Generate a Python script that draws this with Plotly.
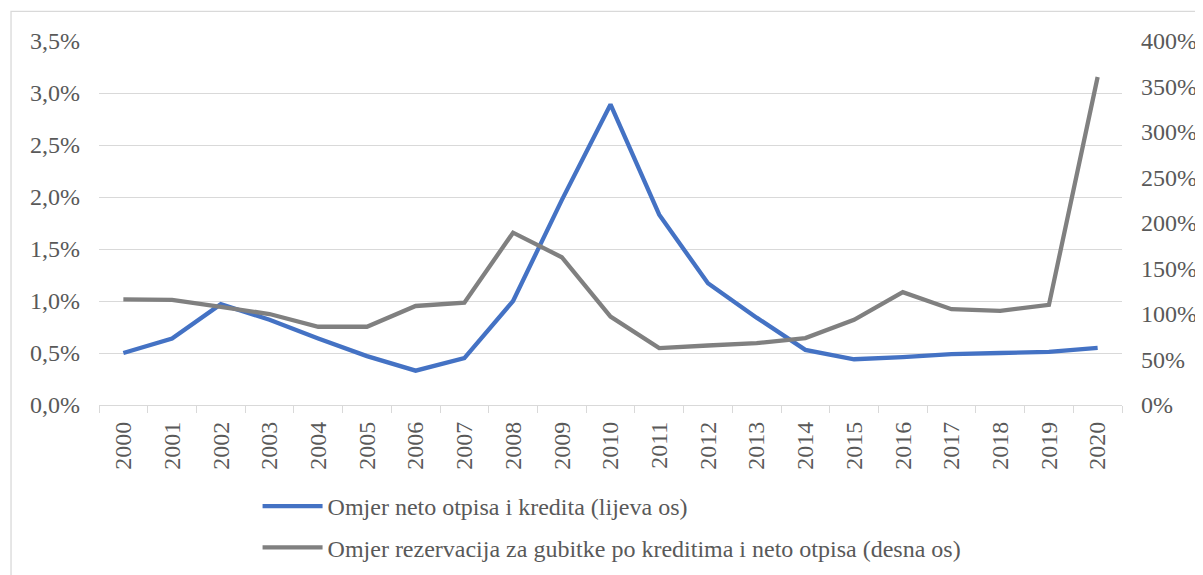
import plotly.graph_objects as go

years = [str(y) for y in range(2000, 2021)]
neto_otpis = [0.0050, 0.0064, 0.0097, 0.0082, 0.0064, 0.0047, 0.0033, 0.0045, 0.0100, 0.0197,
              0.0289, 0.0183, 0.0117, 0.0084, 0.0053, 0.0044, 0.0046, 0.0049, 0.0050, 0.0051, 0.0055]
rezervacije = [1.16, 1.155, 1.077, 1.00, 0.86, 0.86, 1.088, 1.125, 1.894, 1.624,
               0.972, 0.625, 0.654, 0.68, 0.735, 0.936, 1.24, 1.053, 1.035, 1.10, 3.605]
name1 = "Omjer neto otpisa i kredita (lijeva os)"
name2 = "Omjer rezervacija za gubitke po kreditima i neto otpisa (desna os)"

font_family = "Liberation Serif"
txt = "#595959"
grid = "#d9d9d9"
fs = 24

fig = go.Figure()
fig.add_trace(go.Scatter(x=years, y=neto_otpis, name=name1, mode="lines",
                         line=dict(color="#4472C4", width=4.3), legendgroup="a"))
fig.add_trace(go.Scatter(x=years, y=rezervacije, name=name2, mode="lines", yaxis="y2",
                         line=dict(color="#808080", width=4.3), legendgroup="b"))

fig.update_layout(
    width=1203, height=575,
    margin=dict(l=91, r=89, t=33, b=178, autoexpand=False),
    paper_bgcolor="white", plot_bgcolor="white",
    separators=", ",
    font=dict(family=font_family, size=fs, color=txt),
    showlegend=True,
    legend=dict(x=0.155, y=-0.217, xanchor="left", yanchor="top",
                font=dict(family=font_family, size=fs, color=txt),
                tracegroupgap=7, itemwidth=60, bgcolor="rgba(0,0,0,0)"),
    xaxis=dict(type="category", range=[-0.5, 20.5], tickangle=-90, showgrid=False,
               showline=True, linecolor=grid, linewidth=1.3, automargin=False,
               ticks="outside", tickson="boundaries", ticklen=7, tickcolor=grid,
               ticklabelstandoff=6,
               tickfont=dict(family=font_family, size=fs, color=txt)),
    yaxis=dict(range=[0, 0.035], dtick=0.005, tickformat=".1%", showgrid=True,
               gridcolor=grid, gridwidth=1.3, zeroline=False, showline=False,
               ticks="", ticklabelstandoff=18, automargin=False,
               tickfont=dict(family=font_family, size=fs, color=txt)),
    yaxis2=dict(range=[0, 4.0], dtick=0.5, tickformat=".0%", overlaying="y", side="right",
                showgrid=False, zeroline=False, showline=False, ticks="", ticklabelstandoff=18,
                automargin=False,
                tickfont=dict(family=font_family, size=fs, color=txt)),
    shapes=[dict(type="rect", xref="paper", yref="paper", x0=-0.086, x1=1.2, y0=-0.6, y1=1.0815,
                 line=dict(color=grid, width=1.3), fillcolor="rgba(0,0,0,0)", layer="below")],
)

fig.write_html("out.html")
